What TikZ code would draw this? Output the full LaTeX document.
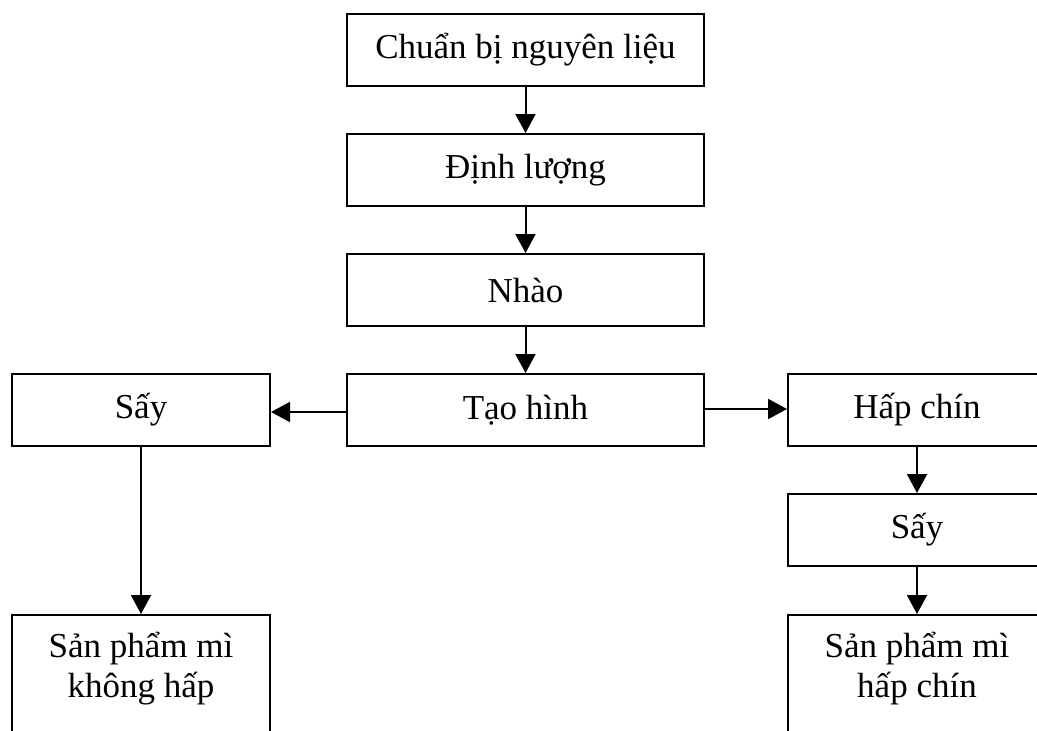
\documentclass[tikz,border=0pt]{standalone}
\usepackage{fontspec}
\setmainfont{Liberation Serif}
\usetikzlibrary{arrows.meta,positioning}
\tikzset{
  buoc/.style={draw,line width=2pt,minimum height=72pt,inner sep=0pt},
  hop/.style={buoc,minimum width=357pt},
  hopnho/.style={buoc,minimum width=258pt},
  mui/.style={line width=2pt,-{Triangle[length=19pt,width=20pt]}},
}
\begin{document}
\begin{tikzpicture}[x=1pt,y=-1pt,every node/.style={font=\fontsize{35}{40}\selectfont}]
  \clip (0,0) rectangle (1037,731);
  % middle column
  \node [hop] (chuanbi) at (525.5,50) {Chuẩn bị nguyên liệu};
  \node [hop] (dinhluong) at (525.5,170) {Định lượng};
  \node [hop] (nhao) at (525.5,290) {Nhào};
  \node [hop] (taohinh) at (525.5,410) {Tạo hình};
  % left branch
  \node [hopnho] (saytrai) at (141,410) {Sấy};
  \node [hopnho,minimum height=140pt,anchor=north] (spkhong) at (141,614) {};
  \node [align=center] (spkhongchu) at (141,669) {Sản phẩm mì\\không hấp};
  % right branch
  \node [hopnho] (hapchin) at (917,410) {Hấp chín};
  \node [hopnho] (sayphai) at (917,530) {Sấy};
  \node [hopnho,minimum height=140pt,anchor=north] (spchin) at (917,614) {};
  \node [align=center] (spchinchu) at (917,669) {Sản phẩm mì\\hấp chín};
  % arrows
  \draw [mui] (chuanbi) -- (dinhluong);
  \draw [mui] (dinhluong) -- (nhao);
  \draw [mui] (nhao) -- (taohinh);
  \draw [mui] ([yshift=-2pt]taohinh.west) -- ([yshift=-2pt]saytrai.east);
  \draw [mui] ([yshift=1pt]taohinh.east) -- ([yshift=1pt]hapchin.west);
  \draw [mui] (saytrai) -- (spkhong);
  \draw [mui] (hapchin) -- (sayphai);
  \draw [mui] (sayphai) -- (spchin);
\end{tikzpicture}
\end{document}
